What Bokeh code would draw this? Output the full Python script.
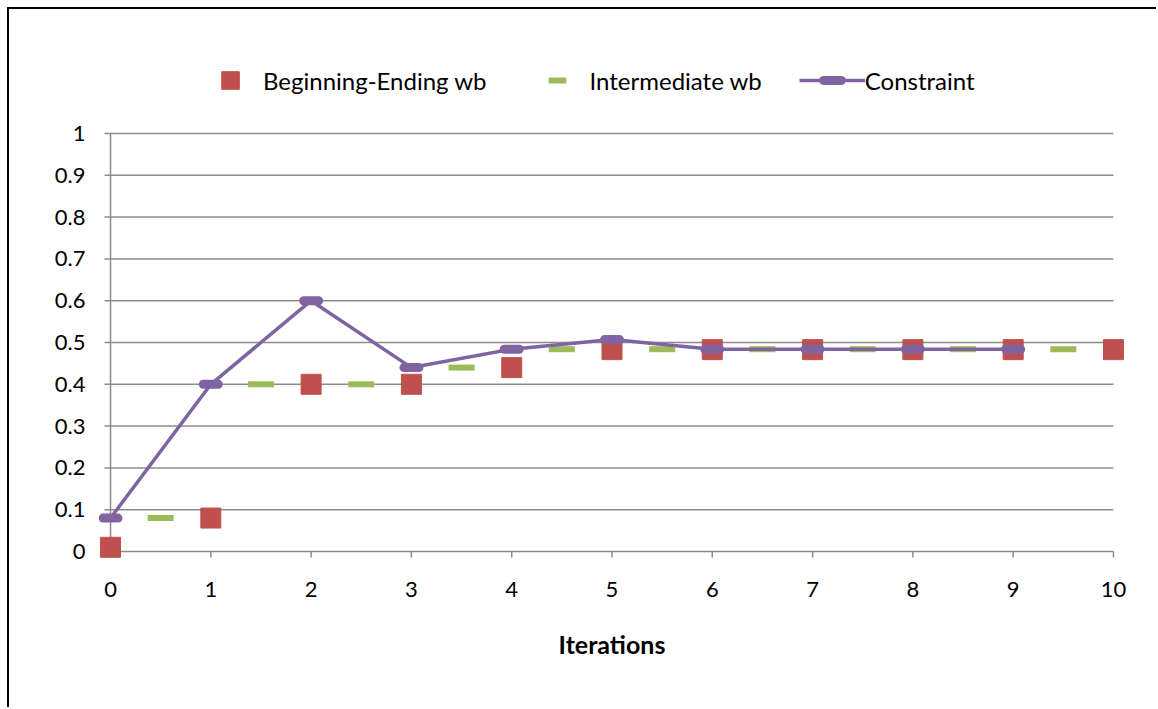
from bokeh.plotting import figure
from bokeh.models import Range1d, Legend, LegendItem, FixedTicker
from bokeh.embed import file_html
from bokeh.resources import INLINE

# ---- data ----
x_ticks = [0, 1, 2, 3, 4, 5, 6, 7, 8, 9, 10]
y_ticks = [0, 0.1, 0.2, 0.3, 0.4, 0.5, 0.6, 0.7, 0.8, 0.9, 1.0]
y_tick_labels = ["0", "0.1", "0.2", "0.3", "0.4", "0.5", "0.6", "0.7", "0.8", "0.9", "1"]

be_x = [0, 1, 2, 3, 4, 5, 6, 7, 8, 9, 10]
be_y = [0.01, 0.08, 0.40, 0.40, 0.44, 0.483, 0.483, 0.483, 0.483, 0.483, 0.483]

im_x = [0.5, 1.5, 2.5, 3.5, 4.5, 5.5, 6.5, 7.5, 8.5, 9.5]
im_y = [0.08, 0.40, 0.40, 0.44, 0.484, 0.484, 0.484, 0.484, 0.484, 0.484]

c_x = [0, 1, 2, 3, 4, 5, 6, 7, 8, 9]
c_y = [0.08, 0.40, 0.60, 0.44, 0.484, 0.507, 0.484, 0.484, 0.484, 0.484]

FONT = "Lato"
FS = "22px"
GRID = "#8c8c8c"
RED = "#c0504d"
GREEN = "#9bbb59"
PURPLE = "#8064a2"
TICK_X = 0.06    # tick length (~6px) in x data units
TICK_Y = 0.0144  # tick length (~6px) in y data units

# frame is extended upward so the legend sits inside it (annotations are clipped to the frame)
p = figure(width=1149, height=700,
           x_range=Range1d(-0.12, 10.12), y_range=Range1d(-0.0311, 1.1986),
           output_backend="svg", toolbar_location=None,
           min_border_left=89, min_border_right=33,
           min_border_top=41, min_border_bottom=145)
p.styles = {"margin-left": "7px", "margin-top": "7px",
            "border-left": "2px solid black", "border-top": "2px solid black"}
p.outline_line_color = None
p.xgrid.visible = False
p.ygrid.visible = False

# horizontal gridlines (with y tick stubs on the left)
p.segment(x0=[x_ticks[0] - TICK_X] * len(y_ticks), x1=[x_ticks[-1]] * len(y_ticks),
          y0=y_ticks, y1=y_ticks, line_color=GRID, line_width=1.5)
# y axis line
p.segment(x0=[x_ticks[0]], x1=[x_ticks[0]], y0=[y_ticks[0]], y1=[y_ticks[-1]],
          line_color=GRID, line_width=1.5)
# x ticks
p.segment(x0=x_ticks, x1=x_ticks, y0=[y_ticks[0]] * len(x_ticks),
          y1=[y_ticks[0] - TICK_Y] * len(x_ticks), line_color=GRID, line_width=1.5)

# axes (labels only)
xa = p.xaxis[0]
xa.ticker = FixedTicker(ticks=x_ticks)
xa.axis_line_color = None
xa.major_tick_line_color = None
xa.minor_tick_line_color = None
xa.major_tick_out = 0
xa.major_tick_in = 0
xa.major_label_standoff = 17
xa.major_label_text_font = FONT
xa.major_label_text_font_size = FS
xa.major_label_text_color = "black"
xa.axis_label = "Iterations"
xa.axis_label_text_font = FONT
xa.axis_label_text_font_size = "25px"
xa.axis_label_text_font_style = "bold"
xa.axis_label_text_color = "black"
xa.axis_label_standoff = 29

ya = p.yaxis[0]
ya.ticker = FixedTicker(ticks=y_ticks)
ya.major_label_overrides = {t: l for t, l in zip(y_ticks, y_tick_labels)}
ya.axis_line_color = None
ya.major_tick_line_color = None
ya.minor_tick_line_color = None
ya.major_tick_out = 0
ya.major_tick_in = 0
ya.major_label_standoff = 13
ya.major_label_text_font = FONT
ya.major_label_text_font_size = FS
ya.major_label_text_color = "black"

# series
r_be = p.scatter(be_x, be_y, marker="square", size=20, fill_color=RED, line_color=RED, line_width=1)
r_im = p.scatter(im_x, im_y, marker="dash", size=26, line_color=GREEN, line_width=6, line_cap="butt")
r_cl = p.line(c_x, c_y, line_color=PURPLE, line_width=3.5)
r_cm = p.scatter(c_x, c_y, marker="dash", size=15, line_color=PURPLE, line_width=9, line_cap="round")

legend = Legend(items=[
    LegendItem(label="Beginning-Ending wb", renderers=[r_be]),
    LegendItem(label="Intermediate wb", renderers=[r_im]),
    LegendItem(label="Constraint", renderers=[r_cl, r_cm]),
], orientation="horizontal", location=(99, 462), padding=0, spacing=37,
   glyph_width=66, glyph_height=44, label_standoff=0, margin=0,
   border_line_color=None, background_fill_alpha=0,
   label_text_font=FONT, label_text_font_size="24px", label_text_color="black")
p.add_layout(legend)

open("out.html", "w").write(file_html(p, INLINE))
